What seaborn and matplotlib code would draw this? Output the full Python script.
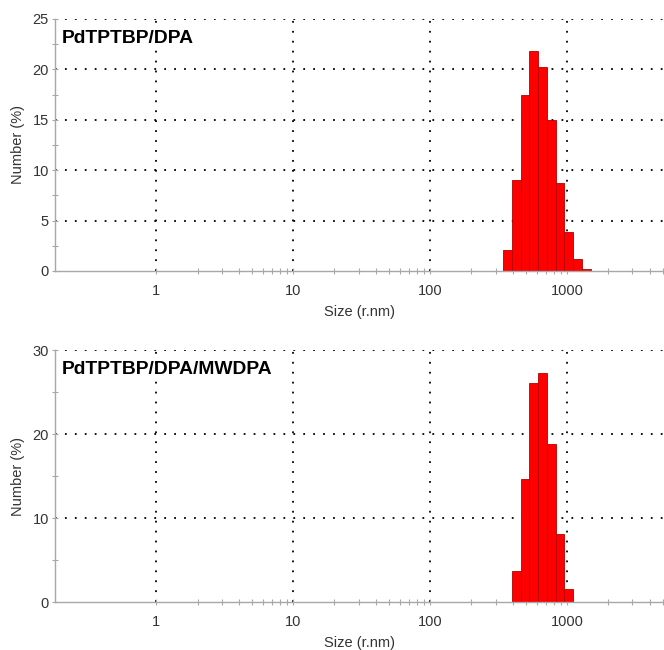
import numpy as np
import pandas as pd
import matplotlib
matplotlib.use("Agg")
import matplotlib.pyplot as plt
from matplotlib.ticker import FixedLocator, NullFormatter, FixedFormatter
import seaborn as sns

# Size classes (nm) and number distributions (%)
top_title = "PdTPTBP/DPA"
top_edges = [342.0, 396.1, 458.7, 531.2, 615.1, 712.4, 825.0, 955.4, 1106.0, 1281.0, 1484.0]
top_number = [2.1, 9.0, 17.5, 21.8, 20.2, 15.0, 8.7, 3.9, 1.2, 0.15]

bottom_title = "PdTPTBP/DPA/MWDPA"
bottom_edges = [396.1, 458.7, 531.2, 615.1, 712.4, 825.0, 955.4, 1106.0]
bottom_number = [3.7, 14.7, 26.1, 27.3, 18.8, 8.1, 1.6]

x_major = [1, 10, 100, 1000]
x_major_labels = ["1", "10", "100", "1000"]
top_yticks = [0, 5, 10, 15, 20, 25]
bottom_yticks = [0, 10, 20, 30]

sns.set_theme(style="white")
plt.rcParams["font.family"] = ["Liberation Sans", "DejaVu Sans"]

fig = plt.figure(figsize=(6.64, 6.5), dpi=100)
W, H = 664, 650


def make_axes(top_px, bottom_px, left_px=55, right_px=664):
    return fig.add_axes([left_px / W, 1 - bottom_px / H,
                         (right_px - left_px) / W, (bottom_px - top_px) / H])


def draw_panel(ax, title, edges, number, yticks, yminor):
    edges = np.asarray(edges)
    centers = np.sqrt(edges[:-1] * edges[1:])
    df = pd.DataFrame({"size": centers, "number": number})
    # bins are given in log10 space because of log_scale
    sns.histplot(data=df, x="size", weights="number",
                 bins=list(np.log10(edges)),
                 log_scale=True, stat="count", ax=ax, color="#ff0000",
                 edgecolor="#b40000", linewidth=0.6, alpha=1.0)
    ax.set_xlim(0.182, 5100)
    ax.set_ylim(yticks[0], yticks[-1])

    ax.xaxis.set_major_locator(FixedLocator(x_major))
    ax.xaxis.set_major_formatter(FixedFormatter(x_major_labels))
    minors = [m * d for d in (1, 10, 100, 1000) for m in range(2, 10)]
    ax.xaxis.set_minor_locator(FixedLocator([v for v in minors if v < 5100]))
    ax.xaxis.set_minor_formatter(NullFormatter())
    ax.yaxis.set_major_locator(FixedLocator(yticks))
    ax.yaxis.set_minor_locator(FixedLocator(yminor))

    ax.grid(True, which="major", color="black", linestyle=(0, (1, 4.5)),
            linewidth=1.3)
    ax.set_axisbelow(True)
    # the zero line is carried by the solid bottom spine only
    ax.yaxis.get_gridlines()[0].set_visible(False)
    for side in ("top", "right"):
        ax.spines[side].set_visible(False)
    for side in ("left", "bottom"):
        ax.spines[side].set_color("#a8a8a8")
        ax.spines[side].set_linewidth(1.0)

    ax.tick_params(axis="both", which="both", direction="inout",
                   bottom=True, left=True, top=False, right=False,
                   color="#a8a8a8", labelcolor="#333333", labelsize=10.5)
    ax.tick_params(axis="both", which="major", length=5, width=0.8)
    ax.tick_params(axis="both", which="minor", length=5, width=0.8)
    ax.tick_params(axis="x", which="major", pad=7)
    ax.tick_params(axis="y", which="major", pad=2)

    ax.set_xlabel("Size (r.nm)", fontsize=10.5, color="#333333", labelpad=5)
    ax.set_ylabel("Number (%)", fontsize=10.5, color="#333333", labelpad=5)
    ax.text(0.011, 0.905, title, transform=ax.transAxes, fontsize=13.9,
            fontweight="bold", color="black", ha="left", va="baseline")


ax_top = make_axes(19, 271)
draw_panel(ax_top, top_title, top_edges, top_number, top_yticks,
           [2.5, 7.5, 12.5, 17.5, 22.5])

ax_bottom = make_axes(350, 602)
draw_panel(ax_bottom, bottom_title, bottom_edges, bottom_number, bottom_yticks,
           [5, 15, 25])

fig.savefig("out.png", dpi=100, facecolor="white")
